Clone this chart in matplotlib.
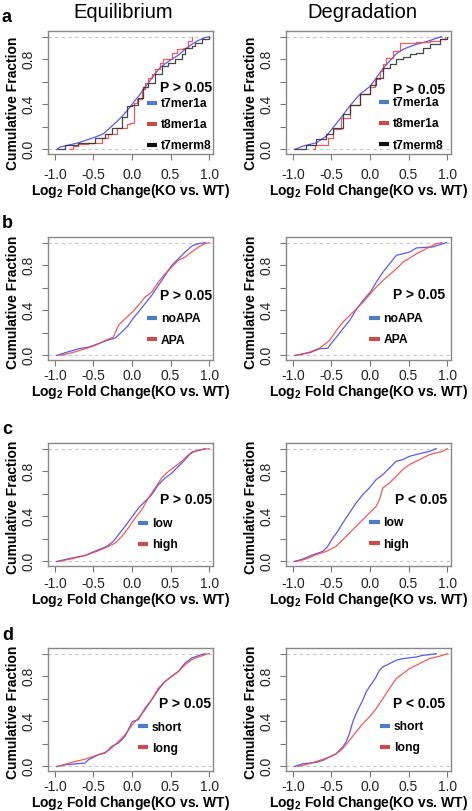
import numpy as np
import matplotlib
matplotlib.use('Agg')
import matplotlib.pyplot as plt
from matplotlib.lines import Line2D

plt.rcParams['font.family'] = ['Liberation Sans', 'DejaVu Sans']
plt.rcParams['mathtext.fontset'] = 'custom'
plt.rcParams['mathtext.rm'] = 'Liberation Sans:bold'
plt.rcParams['mathtext.default'] = 'rm'
plt.rcParams['axes.unicode_minus'] = False

# ---- data (log2 FC, cumulative fraction) ----
# a: seed type, equilibrium
eq_t7mer1a_x = [-0.978, -0.935, -0.827, -0.697, -0.567, -0.481, -0.372, -0.286, -0.199, -0.113, -0.026, 0.039, 0.104, 0.169, 0.234, 0.299, 0.364, 0.429, 0.515, 0.602, 0.688, 0.775, 0.861, 0.948, 1.0]
eq_t7mer1a_y = [0.0, 0.021, 0.038, 0.059, 0.089, 0.109, 0.139, 0.192, 0.246, 0.305, 0.376, 0.435, 0.488, 0.553, 0.612, 0.672, 0.725, 0.760, 0.799, 0.837, 0.888, 0.932, 0.967, 0.991, 1.0]
eq_t8mer1a_x = [-0.805, -0.762, -0.697, -0.567, -0.394, -0.307, -0.199, -0.069, -0.03, 0.03, 0.061, 0.126, 0.169, 0.212, 0.255, 0.299, 0.364, 0.407, 0.515, 0.580, 0.667, 0.732, 0.775]
eq_t8mer1a_y = [0.0, 0.030, 0.050, 0.059, 0.104, 0.133, 0.192, 0.222, 0.237, 0.414, 0.444, 0.533, 0.592, 0.636, 0.666, 0.710, 0.769, 0.799, 0.858, 0.888, 0.902, 0.962, 1.0]
eq_t7merm8_x = [-0.957, -0.870, -0.697, -0.481, -0.351, -0.264, -0.134, -0.069, 0.004, 0.082, 0.147, 0.212, 0.299, 0.385, 0.472, 0.558, 0.645, 0.688, 0.775, 0.818, 0.905, 1.0]
eq_t7merm8_y = [0.0, 0.038, 0.059, 0.104, 0.133, 0.192, 0.287, 0.385, 0.393, 0.459, 0.553, 0.592, 0.666, 0.740, 0.769, 0.799, 0.843, 0.896, 0.917, 0.947, 0.976, 1.0]
# a: seed type, degradation
dg_t7mer1a_x = [-0.978, -0.870, -0.697, -0.567, -0.481, -0.351, -0.264, -0.134, 0.004, 0.082, 0.169, 0.255, 0.342, 0.429, 0.515, 0.602, 0.732, 0.861, 0.926]
dg_t7mer1a_y = [0.0, 0.030, 0.059, 0.118, 0.192, 0.305, 0.385, 0.488, 0.562, 0.636, 0.719, 0.784, 0.849, 0.888, 0.911, 0.932, 0.956, 0.985, 1.0]
dg_t8mer1a_x = [-0.740, -0.719, -0.567, -0.545, -0.481, -0.372, -0.264, -0.134, 0.004, 0.061, 0.126, 0.169, 0.212, 0.299, 0.385, 0.602, 0.775, 0.905, 0.970]
dg_t8mer1a_y = [0.0, 0.044, 0.044, 0.104, 0.178, 0.281, 0.393, 0.494, 0.553, 0.621, 0.695, 0.754, 0.814, 0.873, 0.947, 0.956, 0.962, 0.976, 1.0]
dg_t7merm8_x = [-0.978, -0.827, -0.697, -0.567, -0.481, -0.351, -0.264, -0.134, 0.004, 0.082, 0.169, 0.255, 0.342, 0.429, 0.515, 0.602, 0.688, 0.775, 0.905, 1.0]
dg_t7merm8_y = [0.0, 0.038, 0.089, 0.139, 0.192, 0.311, 0.393, 0.488, 0.571, 0.636, 0.725, 0.760, 0.799, 0.820, 0.843, 0.858, 0.896, 0.938, 0.976, 1.0]
# b: APA
eq_noapa_x = [-0.978, -0.870, -0.697, -0.567, -0.437, -0.329, -0.221, -0.134, -0.048, 0.004, 0.082, 0.169, 0.255, 0.342, 0.429, 0.515, 0.602, 0.688, 0.775, 0.861, 0.948]
eq_noapa_y = [0.0, 0.024, 0.059, 0.074, 0.104, 0.133, 0.154, 0.207, 0.266, 0.320, 0.385, 0.459, 0.533, 0.621, 0.710, 0.799, 0.858, 0.917, 0.970, 0.991, 1.0]
eq_apa_x = [-0.935, -0.784, -0.610, -0.481, -0.351, -0.242, -0.177, -0.091, 0.004, 0.082, 0.169, 0.255, 0.342, 0.429, 0.515, 0.602, 0.688, 0.775, 0.861, 0.948, 1.0]
eq_apa_y = [0.0, 0.024, 0.059, 0.089, 0.133, 0.163, 0.266, 0.325, 0.385, 0.444, 0.518, 0.562, 0.651, 0.725, 0.784, 0.843, 0.873, 0.917, 0.962, 0.991, 1.0]
dg_noapa_x = [-0.978, -0.784, -0.654, -0.545, -0.524, -0.437, -0.351, -0.264, -0.177, -0.091, 0.004, 0.082, 0.169, 0.255, 0.342, 0.429, 0.515, 0.602, 0.818, 0.905, 0.991]
dg_noapa_y = [0.0, 0.024, 0.059, 0.065, 0.089, 0.163, 0.237, 0.311, 0.408, 0.488, 0.562, 0.651, 0.740, 0.814, 0.888, 0.902, 0.917, 0.953, 0.962, 0.982, 1.0]
dg_apa_x = [-0.957, -0.784, -0.654, -0.524, -0.437, -0.351, -0.264, -0.177, -0.091, 0.004, 0.082, 0.169, 0.255, 0.342, 0.429, 0.515, 0.602, 0.688, 0.775, 0.861, 0.926]
dg_apa_y = [0.0, 0.030, 0.065, 0.133, 0.222, 0.296, 0.355, 0.414, 0.473, 0.547, 0.607, 0.666, 0.716, 0.769, 0.828, 0.864, 0.902, 0.932, 0.962, 0.991, 1.0]
# c: expression level
eq_low_x = [-0.978, -0.784, -0.610, -0.437, -0.329, -0.242, -0.177, -0.091, 0.004, 0.082, 0.169, 0.255, 0.342, 0.429, 0.515, 0.602, 0.688, 0.775, 0.861, 0.948]
eq_low_y = [0.0, 0.030, 0.053, 0.104, 0.133, 0.178, 0.237, 0.311, 0.399, 0.473, 0.533, 0.592, 0.680, 0.740, 0.784, 0.843, 0.902, 0.970, 0.985, 1.0]
eq_high_x = [-0.957, -0.784, -0.610, -0.437, -0.307, -0.221, -0.134, -0.048, 0.039, 0.126, 0.212, 0.299, 0.385, 0.472, 0.558, 0.645, 0.732, 0.818, 0.905, 1.0]
eq_high_y = [0.0, 0.024, 0.053, 0.095, 0.133, 0.163, 0.222, 0.296, 0.385, 0.459, 0.562, 0.651, 0.740, 0.799, 0.843, 0.888, 0.947, 0.976, 0.991, 1.0]
dg_low_x = [-0.983, -0.874, -0.745, -0.615, -0.550, -0.485, -0.420, -0.355, -0.268, -0.182, -0.095, -0.009, 0.078, 0.165, 0.251, 0.338, 0.424, 0.511, 0.597, 0.684, 0.771, 0.857]
dg_low_y = [0.0, 0.021, 0.059, 0.089, 0.133, 0.207, 0.266, 0.340, 0.429, 0.518, 0.592, 0.651, 0.725, 0.769, 0.828, 0.888, 0.902, 0.932, 0.947, 0.962, 0.976, 1.0]
dg_high_x = [-0.961, -0.831, -0.701, -0.571, -0.442, -0.355, -0.268, -0.182, -0.095, -0.009, 0.078, 0.121, 0.165, 0.251, 0.338, 0.424, 0.511, 0.597, 0.684, 0.771, 0.857, 0.944, 1.0]
dg_high_y = [0.0, 0.021, 0.059, 0.089, 0.133, 0.192, 0.251, 0.311, 0.370, 0.429, 0.488, 0.547, 0.651, 0.695, 0.754, 0.814, 0.858, 0.888, 0.917, 0.947, 0.962, 0.976, 1.0]
# d: 3'UTR length
eq_short_x = [-0.978, -0.870, -0.610, -0.567, -0.437, -0.351, -0.264, -0.177, -0.091, 0.004, 0.082, 0.169, 0.255, 0.342, 0.429, 0.515, 0.602, 0.688, 0.775, 0.861, 0.948]
eq_short_y = [0.0, 0.015, 0.030, 0.059, 0.104, 0.118, 0.178, 0.207, 0.266, 0.399, 0.414, 0.518, 0.592, 0.680, 0.754, 0.799, 0.843, 0.917, 0.962, 0.982, 1.0]
eq_long_x = [-0.957, -0.784, -0.610, -0.481, -0.351, -0.264, -0.177, -0.091, 0.004, 0.082, 0.169, 0.255, 0.342, 0.429, 0.515, 0.602, 0.688, 0.775, 0.861, 0.948, 1.0]
eq_long_y = [0.0, 0.036, 0.065, 0.095, 0.124, 0.163, 0.222, 0.281, 0.370, 0.429, 0.503, 0.592, 0.695, 0.754, 0.799, 0.843, 0.902, 0.947, 0.970, 0.991, 1.0]
dg_short_x = [-0.983, -0.874, -0.701, -0.615, -0.528, -0.442, -0.355, -0.312, -0.268, -0.225, -0.182, -0.139, -0.095, -0.052, -0.009, 0.035, 0.078, 0.121, 0.165, 0.251, 0.338, 0.424, 0.597, 0.684, 0.771, 0.857]
dg_short_y = [0.0, 0.024, 0.036, 0.053, 0.083, 0.112, 0.172, 0.216, 0.290, 0.393, 0.467, 0.527, 0.586, 0.660, 0.704, 0.749, 0.793, 0.852, 0.882, 0.911, 0.941, 0.956, 0.970, 0.985, 0.991, 1.0]
dg_long_x = [-0.939, -0.788, -0.658, -0.528, -0.442, -0.355, -0.268, -0.182, -0.095, -0.009, 0.078, 0.165, 0.251, 0.338, 0.424, 0.511, 0.597, 0.684, 0.771, 0.857, 0.944, 1.0]
dg_long_y = [0.0, 0.024, 0.053, 0.083, 0.112, 0.157, 0.231, 0.305, 0.379, 0.438, 0.512, 0.601, 0.689, 0.778, 0.822, 0.867, 0.896, 0.926, 0.956, 0.970, 0.985, 1.0]

p_labels = ['P > 0.05', 'P > 0.05', 'P > 0.05', 'P > 0.05',
            'P > 0.05', 'P < 0.05', 'P > 0.05', 'P < 0.05']
col_titles = ['Equilibrium', 'Degradation']
row_letters = ['a', 'b', 'c', 'd']
x_ticks = [-1.0, -0.5, 0.0, 0.5, 1.0]
y_ticks = [0.0, 0.2, 0.4, 0.6, 0.8, 1.0]
y_ticklabels = ['0.0', '', '0.4', '', '0.8', '']

BLUE, RED, BLACK = '#4848ee', '#f04848', '#333333'
LEG = {BLUE: '#4a7cc8', RED: '#c84a4a', BLACK: '#111111'}

# (curves, steps?) per panel, row-major
panels = [
    [('t7mer1a', eq_t7mer1a_x, eq_t7mer1a_y, BLUE, False),
     ('t8mer1a', eq_t8mer1a_x, eq_t8mer1a_y, RED, True),
     ('t7merm8', eq_t7merm8_x, eq_t7merm8_y, BLACK, True)],
    [('t7mer1a', dg_t7mer1a_x, dg_t7mer1a_y, BLUE, False),
     ('t8mer1a', dg_t8mer1a_x, dg_t8mer1a_y, RED, True),
     ('t7merm8', dg_t7merm8_x, dg_t7merm8_y, BLACK, True)],
    [('noAPA', eq_noapa_x, eq_noapa_y, BLUE, False),
     ('APA', eq_apa_x, eq_apa_y, RED, False)],
    [('noAPA', dg_noapa_x, dg_noapa_y, BLUE, False),
     ('APA', dg_apa_x, dg_apa_y, RED, False)],
    [('low', eq_low_x, eq_low_y, BLUE, False),
     ('high', eq_high_x, eq_high_y, RED, False)],
    [('low', dg_low_x, dg_low_y, BLUE, False),
     ('high', dg_high_x, dg_high_y, RED, False)],
    [('short', eq_short_x, eq_short_y, BLUE, False),
     ('long', eq_long_x, eq_long_y, RED, False)],
    [('short', dg_short_x, dg_short_y, BLUE, False),
     ('long', dg_long_x, dg_long_y, RED, False)],
]
# layout: p-text position, legend anchor (axes fraction)
p_pos = [(0.68, 0.537), (0.647, 0.52), (0.68, 0.52), (0.65, 0.53),
         (0.68, 0.537), (0.66, 0.537), (0.675, 0.545), (0.647, 0.545)]
leg_pos = [(0.60, 0.236), (0.565, 0.24), (0.60, 0.244), (0.505, 0.248),
           (0.545, 0.256), (0.505, 0.26), (0.545, 0.268), (0.57, 0.27)]
xtick_pad = [6, 2.5, 4, 2.5]
ylabel_y = [0.41, 0.47, 0.48, 0.48]

W, H = 472, 811
fig = plt.figure(figsize=(W / 100, H / 100), dpi=100)
row_top = [31, 237, 443, 648]
col_left = [48, 286]
aw, ah = 165, 123

for i, curves in enumerate(panels):
    r, c = divmod(i, 2)
    ax = fig.add_axes([col_left[c] / W, 1 - (row_top[r] + ah) / H, aw / W, ah / H])
    ax.axhline(0, color='#c4c4c4', lw=0.8, ls=(0, (3, 3)))
    ax.axhline(1, color='#c4c4c4', lw=0.8, ls=(0, (3, 3)))
    handles = []
    for name, xs, ys, col, steps in curves:
        ax.plot(xs, ys, color=col, lw=0.9, alpha=0.9,
                drawstyle='steps-post' if steps else 'default')
        handles.append(Line2D([], [], color=LEG[col], lw=3, solid_capstyle='butt', label=name))
    ax.set_xlim(-1.09, 1.05)
    ax.set_ylim(-0.04, 1.05)
    ax.set_xticks(x_ticks)
    ax.set_xticklabels(['%.1f' % v for v in x_ticks])
    ax.set_yticks(y_ticks)
    ax.set_yticklabels(y_ticklabels, rotation=90, va='center')
    ax.tick_params(axis='both', direction='out', length=4, width=0.8, color='#777777',
                   labelsize=10, labelcolor='#222222')
    ax.tick_params(axis='x', pad=xtick_pad[r])
    ax.tick_params(axis='y', pad=5)
    for s in ax.spines.values():
        s.set_color('#888888')
        s.set_linewidth(1.0)
    ax.set_ylabel('Cumulative Fraction', fontsize=10, fontweight='bold')
    ax.yaxis.set_label_coords(-0.17, ylabel_y[r])
    ax.set_xlabel(r'Log$_2$ Fold Change(KO vs. WT)', fontsize=10, fontweight='bold', labelpad=0)
    ax.text(p_pos[i][0], p_pos[i][1], p_labels[i], transform=ax.transAxes,
            fontsize=10, fontweight='bold', va='center', ha='left')
    ax.legend(handles=handles, loc='center left', bbox_to_anchor=leg_pos[i],
              frameon=False, prop={'weight': 'bold', 'size': 8.7},
              handlelength=0.85, handletextpad=0.3, labelspacing=0.75,
              borderpad=0, borderaxespad=0)

fig.text(123 / W, 1 - 12 / H, col_titles[0], fontsize=14.5, ha='center', va='center')
fig.text(362 / W, 1 - 12 / H, col_titles[1], fontsize=14.5, ha='center', va='center')
for r, letter in enumerate(row_letters):
    fig.text(2 / W, 1 - (row_top[r] - 13) / H, letter, fontsize=13, fontweight='bold',
             ha='left', va='center')

fig.savefig('out.png', dpi=100)
